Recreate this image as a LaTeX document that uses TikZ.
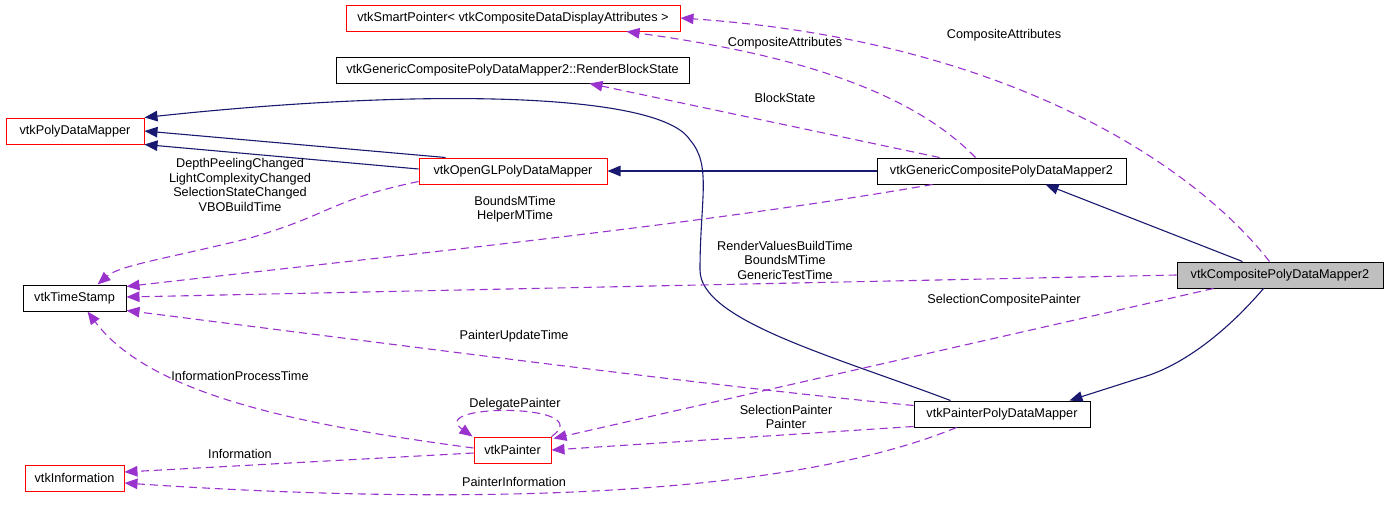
\documentclass[tikz,border=0pt]{standalone}
\usepackage{fontspec}
\setmainfont{Liberation Sans}
\usetikzlibrary{arrows.meta,calc}
\definecolor{vred}{HTML}{FF0000}
\definecolor{navy}{HTML}{191970}
\definecolor{orch}{HTML}{9A32CD}
\definecolor{gfill}{HTML}{BFBFBF}
\newcommand\lab{\fontsize{12.7}{14.5}\selectfont}
\tikzset{
  box/.style={draw=black, fill=white, minimum height=26pt, inner sep=0pt, font=\lab, line width=1pt},
  redbox/.style={box, draw=vred},
  inh/.style={draw=navy, line width=1.1pt, -{Triangle[length=13pt,width=10.5pt]}},
  use/.style={draw=orch, line width=1.1pt, dash pattern=on 8pt off 5pt, -{Triangle[length=13pt,width=10.5pt]}},
  lbl/.style={font=\lab, align=center, inner sep=0pt}
}
\begin{document}
\begin{tikzpicture}[x=1pt,y=-1pt]
\useasboundingbox (0,0) rectangle (1387,506);
% nodes
\node[redbox, minimum width=334pt] (sp) at (513,18) {vtkSmartPointer< vtkCompositeDataDisplayAttributes >};
\node[box, minimum width=353pt] (rbs) at (512.5,70) {vtkGenericCompositePolyDataMapper2::RenderBlockState};
\node[redbox, minimum width=138pt] (pdm) at (75,131) {vtkPolyDataMapper};
\node[redbox, minimum width=188pt] (ogl) at (513,171) {vtkOpenGLPolyDataMapper};
\node[box, minimum width=249pt] (gcp) at (1001.5,171) {vtkGenericCompositePolyDataMapper2};
\node[box, fill=gfill, minimum width=206pt] (cpd) at (1280,275) {vtkCompositePolyDataMapper2};
\node[box, minimum width=103pt] (ts) at (74.5,298) {vtkTimeStamp};
\node[box, minimum width=176pt] (ppd) at (1002,414) {vtkPainterPolyDataMapper};
\node[redbox, minimum width=77pt] (vp) at (512.5,450) {vtkPainter};
\node[redbox, minimum width=99pt] (vi) at (74.5,478) {vtkInformation};

% inheritance edges
\draw[inh] ($(ogl.north west)+(27,0)$) -- (pdm.east);
\draw[inh] ($(ogl.west)+(0,-2)$) -- (pdm.south east);
\draw[inh] ($(ppd.north west)+(37,0)$) .. controls (830,355) and (700,320) .. (700,270)
   .. controls (700,200) and (712,165) .. (690,140)
   .. controls (660,92) and (420,88) .. (pdm.north east);
\draw[inh] (gcp.west) -- (ogl.east);
\draw[inh] ($(cpd.north west)+(66,0)$) -- ($(gcp.south west)+(169,0)$);
\draw[inh] ($(cpd.south west)+(87,0)$) .. controls (1215,345) and (1170,370) .. (1140,378) -- ($(ppd.north east)+(-21,0)$);

% usage edges
\draw[use] ($(cpd.north west)+(93,0)$) .. controls (1190,160) and (1000,40) .. (sp.east);
\draw[use] ($(gcp.north west)+(99,0)$) .. controls (900,80) and (760,50) .. ($(sp.south east)+(-54,0)$);
\draw[use] ($(gcp.north west)+(63,0)$) -- ($(rbs.south west)+(254,0)$);
\draw[use] ($(gcp.south west)+(56,0)$) .. controls (700,225) and (400,255) .. ($(ts.north east)+(0,2)$);
\draw[use] ($(ogl.south west)+(0,-3)$) .. controls (330,200) and (330,215) .. (250,238)
   .. controls (170,258) and (120,265) .. ($(ts.north west)+(75,0)$);
\draw[use] (cpd.west) -- ($(ts.east)+(0,-1)$);
\draw[use] ($(ppd.north west)+(0,5)$) .. controls (700,385) and (400,345) .. ($(ts.south east)+(0,-1)$);
\draw[use] ($(vp.west)+(0,-2)$) .. controls (300,425) and (150,395) .. ($(ts.south west)+(65,0)$);
\draw[use] ($(vp.west)+(0,3)$) -- ($(vi.east)+(0,-6)$);
\draw[use] ($(ppd.south west)+(43,0)$) .. controls (780,500) and (450,505) .. ($(vi.east)+(0,5)$);
\draw[use] ($(ppd.south west)+(0,-1)$) -- (vp.east);
\draw[use] ($(cpd.south west)+(37,0)$) -- ($(vp.north east)+(2,2)$);
\draw[use] ($(vp.north east)+(0,0)$) .. controls (600,403) and (425,403) .. ($(vp.north west)+(-1,0)$);

% labels
\node[lbl] (l1) at (1004,35) {CompositeAttributes};
\node[lbl] (l2) at (785,43) {CompositeAttributes};
\node[lbl] (l3) at (785,98) {BlockState};
\node[lbl] (l4) at (785,260) {RenderValuesBuildTime\\BoundsMTime\\GenericTestTime};
\node[lbl] (l5) at (1004,300) {SelectionCompositePainter};
\node[lbl] (l6) at (786,417) {SelectionPainter\\Painter};
\node[lbl] (l7) at (515,209) {BoundsMTime\\HelperMTime};
\node[lbl] (l8) at (240,185) {DepthPeelingChanged\\LightComplexityChanged\\SelectionStateChanged\\VBOBuildTime};
\node[lbl] (l9) at (514,336) {PainterUpdateTime};
\node[lbl] (l10) at (240,376) {InformationProcessTime};
\node[lbl] (l11) at (515,404) {DelegatePainter};
\node[lbl] (l12) at (240,454) {Information};
\node[lbl] (l13) at (514,482) {PainterInformation};
\end{tikzpicture}
\end{document}
